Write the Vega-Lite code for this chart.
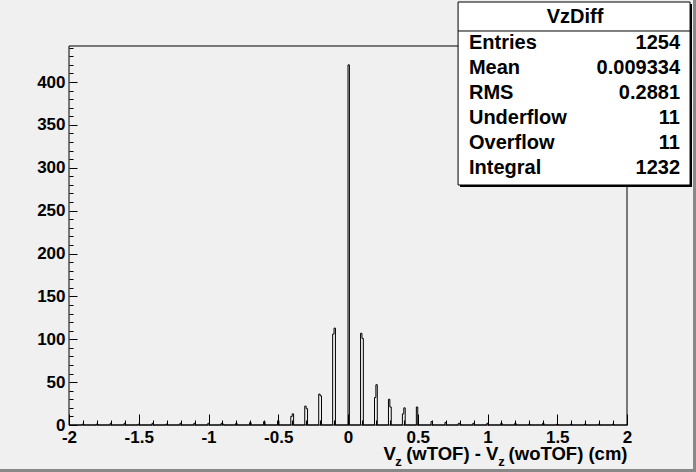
{
  "$schema": "https://vega.github.io/schema/vega-lite/v6.json",
  "width": 558,
  "height": 379,
  "autosize": {"type": "none"},
  "padding": {"left": 69, "top": 46, "right": 69, "bottom": 47},
  "background": "#f0f0f0",
  "config": {
    "view": {"stroke": null},
    "font": "Liberation Sans"
  },
  "datasets": {
    "one": [{}],
    "subs": [{"t": "z", "pos": 0.338}, {"t": "z", "pos": 1.077}],
    "hist": [
      {"x": -2, "n": 0},
      {"x": -1.905, "n": 1}, {"x": -1.895, "n": 0},
      {"x": -1.805, "n": 1}, {"x": -1.795, "n": 0},
      {"x": -1.705, "n": 2}, {"x": -1.695, "n": 0},
      {"x": -1.605, "n": 2}, {"x": -1.595, "n": 0},
      {"x": -1.505, "n": 1}, {"x": -1.495, "n": 0},
      {"x": -1.405, "n": 2}, {"x": -1.395, "n": 0},
      {"x": -1.305, "n": 1}, {"x": -1.295, "n": 0},
      {"x": -1.205, "n": 2}, {"x": -1.195, "n": 0},
      {"x": -1.105, "n": 2}, {"x": -1.095, "n": 0},
      {"x": -1.005, "n": 2}, {"x": -0.995, "n": 0},
      {"x": -0.91, "n": 2}, {"x": -0.9, "n": 1}, {"x": -0.89, "n": 0},
      {"x": -0.805, "n": 2}, {"x": -0.795, "n": 0},
      {"x": -0.705, "n": 3}, {"x": -0.695, "n": 0},
      {"x": -0.605, "n": 4}, {"x": -0.595, "n": 0},
      {"x": -0.505, "n": 5}, {"x": -0.495, "n": 0},
      {"x": -0.41, "n": 10}, {"x": -0.4, "n": 13}, {"x": -0.39, "n": 0},
      {"x": -0.31, "n": 22}, {"x": -0.3, "n": 19}, {"x": -0.29, "n": 0},
      {"x": -0.21, "n": 36}, {"x": -0.2, "n": 34}, {"x": -0.19, "n": 0},
      {"x": -0.11, "n": 106}, {"x": -0.1, "n": 113}, {"x": -0.09, "n": 0},
      {"x": 0, "n": 420}, {"x": 0.01, "n": 0},
      {"x": 0.09, "n": 107}, {"x": 0.1, "n": 101}, {"x": 0.11, "n": 0},
      {"x": 0.19, "n": 32}, {"x": 0.2, "n": 47}, {"x": 0.21, "n": 0},
      {"x": 0.29, "n": 30}, {"x": 0.3, "n": 21}, {"x": 0.31, "n": 0},
      {"x": 0.39, "n": 13}, {"x": 0.4, "n": 20}, {"x": 0.41, "n": 0},
      {"x": 0.49, "n": 21}, {"x": 0.5, "n": 0},
      {"x": 0.595, "n": 4}, {"x": 0.605, "n": 0},
      {"x": 0.695, "n": 3}, {"x": 0.705, "n": 0},
      {"x": 0.79, "n": 2}, {"x": 0.8, "n": 1}, {"x": 0.81, "n": 0},
      {"x": 0.895, "n": 2}, {"x": 0.905, "n": 0},
      {"x": 0.995, "n": 2}, {"x": 1.005, "n": 0},
      {"x": 1.095, "n": 2}, {"x": 1.105, "n": 0},
      {"x": 1.195, "n": 2}, {"x": 1.205, "n": 0},
      {"x": 1.295, "n": 1}, {"x": 1.305, "n": 0},
      {"x": 1.395, "n": 2}, {"x": 1.405, "n": 0},
      {"x": 1.495, "n": 1}, {"x": 1.505, "n": 0},
      {"x": 1.595, "n": 1}, {"x": 1.605, "n": 0},
      {"x": 1.695, "n": 1}, {"x": 1.705, "n": 0},
      {"x": 1.795, "n": 1}, {"x": 1.805, "n": 0},
      {"x": 1.895, "n": 1}, {"x": 1.905, "n": 0},
      {"x": 2, "n": 0}
    ],
    "stats": [
      {"stat": "Entries", "value": "1254", "row": 0},
      {"stat": "Mean", "value": "0.009334", "row": 1},
      {"stat": "RMS", "value": "0.2881", "row": 2},
      {"stat": "Underflow", "value": "11", "row": 3},
      {"stat": "Overflow", "value": "11", "row": 4},
      {"stat": "Integral", "value": "1232", "row": 5}
    ]
  },
  "layer": [
    {
      "resolve": {"axis": {"x": "independent", "y": "independent"}},
      "layer": [
        {
          "data": {"name": "one"},
          "mark": {"type": "rect", "filled": false, "stroke": "black", "strokeWidth": 1, "clip": false},
          "encoding": {
            "x": {"datum": -2, "type": "quantitative",
              "scale": {"domain": [-2, 2], "nice": false, "zero": false},
              "axis": {"orient": "bottom", "values": [-1.9,-1.8,-1.7,-1.6,-1.4,-1.3,-1.2,-1.1,-0.9,-0.8,-0.7,-0.6,-0.4,-0.3,-0.2,-0.1,0.1,0.2,0.3,0.4,0.6,0.7,0.8,0.9,1.1,1.2,1.3,1.4,1.6,1.7,1.8,1.9],
                "labels": false, "domain": false, "grid": false, "tickSize": -5, "tickColor": "black", "title": null}},
            "x2": {"datum": 2},
            "y": {"datum": 0, "type": "quantitative",
              "scale": {"domain": [0, 442], "nice": false},
              "axis": {"orient": "left", "values": [10,20,30,40,60,70,80,90,110,120,130,140,160,170,180,190,210,220,230,240,260,270,280,290,310,320,330,340,360,370,380,390,410,420,430,440],
                "labels": false, "domain": false, "grid": false, "tickSize": -4, "tickColor": "black", "title": null}},
            "y2": {"datum": 442}
          }
        },
        {
          "data": {"name": "hist"},
          "mark": {"type": "line", "interpolate": "step-after", "color": "black", "strokeWidth": 1, "clip": false},
          "encoding": {
            "x": {"field": "x", "type": "quantitative",
              "scale": {"domain": [-2, 2], "nice": false, "zero": false},
              "axis": {"orient": "bottom", "values": [-2,-1.5,-1,-0.5,0,0.5,1,1.5,2],
                "labelExpr": "'' + datum.value", "domain": false, "grid": false,
                "tickSize": -11, "tickColor": "black", "labelPadding": 15,
                "labelFont": "Liberation Sans", "labelFontWeight": "bold", "labelFontSize": 17, "labelColor": "black",
                "labelFlush": false, "labelOverlap": false,
                "title": "V\u00a0\u00a0(wTOF) - V\u00a0\u00a0(woTOF) (cm)", "titleAnchor": "end",
                "titleFont": "Liberation Sans", "titleFontWeight": "bold", "titleFontSize": 18.5, "titleColor": "black", "titlePadding": -1}},
            "y": {"field": "n", "type": "quantitative",
              "scale": {"domain": [0, 442], "nice": false},
              "axis": {"orient": "left", "values": [0,50,100,150,200,250,300,350,400],
                "domain": false, "grid": false, "tickSize": -8, "tickColor": "black", "labelPadding": 12,
                "labelFont": "Liberation Sans", "labelFontWeight": "bold", "labelFontSize": 17, "labelColor": "black",
                "labelFlush": false, "labelOverlap": false, "title": null}}
          }
        },
        {
          "data": {"name": "one"},
          "mark": {"type": "rect", "color": "#000000", "clip": false},
          "encoding": {
            "x": {"datum": 0.803, "axis": null}, "x2": {"datum": 2.466},
            "y": {"datum": 491.0, "axis": null}, "y2": {"datum": 277.6}
          }
        },
        {
          "data": {"name": "one"},
          "mark": {"type": "rect", "fill": "white", "stroke": "black", "strokeWidth": 1, "clip": false},
          "encoding": {
            "x": {"datum": 0.789, "axis": null}, "x2": {"datum": 2.452},
            "y": {"datum": 493.3, "axis": null}, "y2": {"datum": 279.9}
          }
        },
        {
          "data": {"name": "one"},
          "mark": {"type": "rule", "color": "black", "strokeWidth": 1, "clip": false},
          "encoding": {
            "x": {"datum": 0.789, "axis": null}, "x2": {"datum": 2.452},
            "y": {"datum": 459.5, "axis": null}
          }
        },
        {
          "data": {"name": "one"},
          "mark": {"type": "text", "text": "VzDiff", "font": "Liberation Sans", "fontWeight": "bold", "fontSize": 20, "color": "black", "align": "center", "baseline": "middle", "clip": false},
          "encoding": {
            "x": {"datum": 1.627, "axis": null},
            "y": {"datum": 475.8, "axis": null}
          }
        },
        {
          "data": {"name": "subs"},
          "mark": {"type": "text", "font": "Liberation Sans", "fontWeight": "bold", "fontSize": 13, "color": "black", "align": "left", "baseline": "alphabetic", "clip": false},
          "encoding": {
            "x": {"field": "pos", "type": "quantitative", "axis": null},
            "y": {"datum": -48, "axis": null},
            "text": {"field": "t"}
          }
        },
        {
          "data": {"name": "one"},
          "mark": {"type": "rule", "color": "#888888", "strokeWidth": 3, "clip": false},
          "encoding": {
            "x": {"datum": 2.484, "axis": null},
            "y": {"datum": 495.6, "axis": null}, "y2": {"datum": -54.8}
          }
        },
        {
          "data": {"name": "one"},
          "mark": {"type": "rule", "color": "#888888", "strokeWidth": 3, "clip": false},
          "encoding": {
            "x": {"datum": -2.495, "axis": null}, "x2": {"datum": 2.495},
            "y": {"datum": -53.06, "axis": null}
          }
        }
      ]
    },
    {
      "data": {"name": "stats"},
      "mark": {"type": "text", "font": "Liberation Sans", "fontWeight": "bold", "fontSize": 20, "color": "black", "align": "left", "baseline": "middle", "clip": false},
      "encoding": {
        "x": {"datum": 0.867, "axis": null},
        "y": {"field": "row", "type": "quantitative", "axis": null,
          "scale": {"domain": [0.12, 15.28], "reverse": true, "nice": false, "zero": false}},
        "text": {"field": "stat"}
      }
    },
    {
      "data": {"name": "stats"},
      "mark": {"type": "text", "font": "Liberation Sans", "fontWeight": "bold", "fontSize": 20, "color": "black", "align": "right", "baseline": "middle", "clip": false},
      "encoding": {
        "x": {"datum": 2.38, "axis": null},
        "y": {"field": "row", "type": "quantitative", "axis": null,
          "scale": {"domain": [0.12, 15.28], "reverse": true, "nice": false, "zero": false}},
        "text": {"field": "value"}
      }
    }
  ],
  "resolve": {"scale": {"y": "independent"}}
}
